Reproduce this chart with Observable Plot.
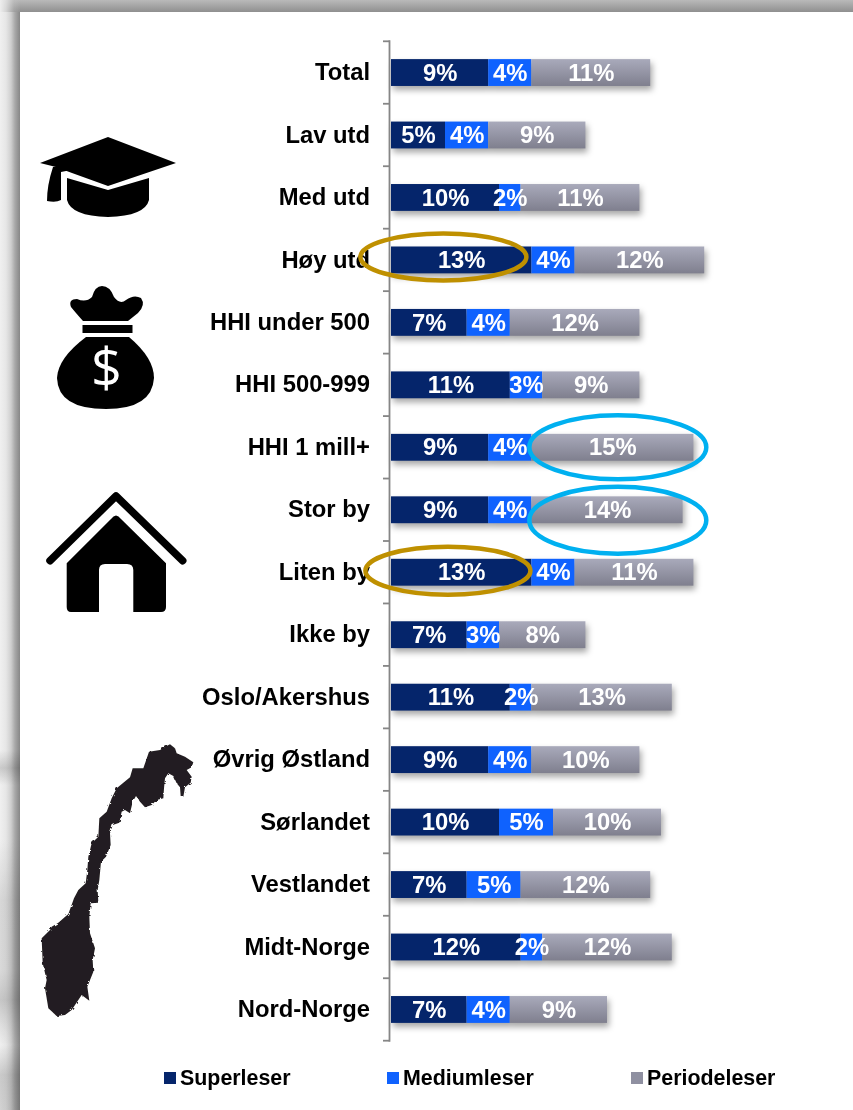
<!DOCTYPE html>
<html><head><meta charset="utf-8">
<script src="https://cdn.jsdelivr.net/npm/d3@7"></script>
<script src="https://cdn.jsdelivr.net/npm/@observablehq/plot@0.6"></script>
<style>
html,body{margin:0;padding:0;width:853px;height:1110px;overflow:hidden;background:#fff}
#sideShade{position:absolute;left:0;top:0;width:20px;height:1110px;background:linear-gradient(to right,#f0f0f0 0,#e6e6e6 6px,#cfcfcf 11px,#a8a8a8 15px,#878787 20px)}
#sideBlot{position:absolute;left:0;top:700px;width:20px;height:410px;mix-blend-mode:multiply;background:linear-gradient(to bottom,#fff 0,#fff 50px,#d8d8d8 68px,#fff 85px,#fff 140px,#e6e6e6 200px,#e8e8e8 270px,#d4d4d4 300px,#eeeeee 325px,#ffffff 345px,#d8d8d8 375px,#e0e0e0 410px)}
#topShade{position:absolute;left:0;top:0;width:853px;height:12px;background:linear-gradient(to bottom,#b9b9b9 0,#8f8f8f 12px)}
#topFade{position:absolute;left:0;top:0;width:20px;height:12px;background:linear-gradient(to right,#eeeeee 0,rgba(230,230,230,.8) 6px,rgba(200,200,200,.3) 14px,rgba(200,200,200,0) 20px)}
#chart{position:absolute;left:0;top:0;width:853px}
#chart svg{display:block;background:transparent}
#legend{position:absolute;left:0;top:1056px;width:853px;height:54px;font:bold 21.4px "Liberation Sans",Arial,sans-serif;color:#000}
#legend span{position:absolute;top:10px;line-height:24px;white-space:nowrap}
#legend i{position:absolute;left:-16px;top:6px;width:12px;height:12px}
</style></head><body>
<div id="sideShade"></div><div id="sideBlot"></div><div id="topShade"></div><div id="topFade"></div>
<div id="chart"></div>
<div id="legend"></div>
<script>
const categories=["Total","Lav utd","Med utd","Høy utd","HHI under 500","HHI 500-999","HHI 1 mill+","Stor by","Liten by","Ikke by","Oslo/Akershus","Øvrig Østland","Sørlandet","Vestlandet","Midt-Norge","Nord-Norge"];
const seriesNames=["Superleser","Mediumleser","Periodeleser"];
const superleser=[9,5,10,13,7,11,9,9,13,7,11,9,10,7,12,7];
const mediumleser=[4,4,2,4,4,3,4,4,4,3,2,4,5,5,2,4];
const periodeleser=[11,9,11,12,12,9,15,14,11,8,13,10,10,12,12,9];
const seriesColors=["#05256b","#0f62fe","url(#greyGrad)"];

const rows=categories.flatMap((c,i)=>[superleser[i],mediumleser[i],periodeleser[i]].map((v,j)=>({category:c,series:seriesNames[j],value:v})));
const stackOpts={x:"value",y:"category",z:"series",order:seriesNames};

const defs=()=>{
  const d=d3.create("svg:defs");
  const g=d.append("linearGradient").attr("id","greyGrad").attr("x1",0).attr("x2",0).attr("y1",0).attr("y2",1);
  g.append("stop").attr("offset",0).attr("stop-color","#a9aabb");
  g.append("stop").attr("offset",1).attr("stop-color","#7f7f8e");
  const f=d.append("filter").attr("id","rough").attr("x","-5%").attr("y","-5%").attr("width","110%").attr("height","110%");
  f.append("feTurbulence").attr("type","fractalNoise").attr("baseFrequency",0.22).attr("numOctaves",2).attr("seed",3).attr("result","n");
  f.append("feDisplacementMap").attr("in","SourceGraphic").attr("in2","n").attr("scale",3);
  f.append("feGaussianBlur").attr("stdDeviation",0.5);
  return d.node();
};
const axisMark=(index,{y})=>{
  const g=d3.create("svg:g").attr("stroke","#868686").attr("fill","none");
  const step=y(categories[1])-y(categories[0]);
  const bw=y.bandwidth();
  const edges=categories.map(c=>y(c)-(step-bw)/2);
  edges.push(edges[edges.length-1]+step);
  const x0=389.5;
  g.append("line").attr("x1",x0).attr("x2",x0).attr("y1",edges[0]-1).attr("y2",edges[edges.length-1]+1).attr("stroke-width",1.8);
  edges.forEach(e=>g.append("line").attr("x1",383).attr("x2",x0).attr("y1",e).attr("y2",e).attr("stroke-width",1.8));
  return g.node();
};
const icons=()=>{
  const g=d3.create("svg:g").attr("fill","#000");
  // graduation cap
  g.append("path").attr("d","M40 163 L108 137 L176 163 L108 186 L72 173 L56 167 Z");
  g.append("path").attr("d","M53 167 L60 166 L71 170 L61 172 L61 200 Q56 203 47 201 Q47 185 53 167 Z");
  g.append("path").attr("d","M67 178 L108 190 L149 178 V200 Q145 216 108 217 Q71 216 67 200 Z");
  // money bag
  g.append("path").attr("d","M83 321 Q75 312 71 307 Q68 299 77 299 Q86 303 92 297 Q95 286 102 286 Q110 286 114 297 Q120 305 126 300 Q134 294 141 298 Q146 305 138 313 L128 321 Z");
  g.append("rect").attr("x",82.5).attr("y",325).attr("width",50).attr("height",8);
  g.append("path").attr("d","M86 337 H129 Q154 358 154 378 Q152 409 106 409 Q58 409 57 378 Q58 358 86 337 Z");
  g.append("text").attr("x",106.5).attr("y",387).attr("text-anchor","middle").attr("fill","#fff").attr("font-family","Open Sans").attr("font-size",54).text("$");
  // house
  g.append("path").attr("d","M50 560.7 L116 496 L182.7 560.7").attr("fill","none").attr("stroke","#000").attr("stroke-width",7.5).attr("stroke-linecap","round").attr("stroke-linejoin","round");
  g.append("path").attr("d","M66.7 563.3 L111 519 Q116 512 121 519 L166 563.3 V607 Q166 612 161 612 H133.3 V570 Q133.3 564 127 564 H105 Q99 564 99 570 V612 H71 Q66.7 612 66.7 607 Z");
  // Norway
  const pts=[[510,43],[525,55],[530,70],[555,80],[580,97],[575,112],[560,120],[575,140],[572,158],[555,172],[550,200],[542,198],[540,172],[530,160],[520,138],[505,130],[495,145],[492,175],[490,205],[470,210],[455,225],[435,232],[420,215],[408,198],[398,215],[390,250],[375,240],[365,245],[358,278],[338,285],[330,310],[332,345],[318,380],[303,395],[298,450],[293,480],[295,518],[272,520],[268,560],[270,610],[285,655],[278,690],[280,725],[262,770],[268,812],[245,795],[215,840],[195,855],[170,858],[145,835],[135,775],[140,750],[128,700],[125,625],[150,600],[155,590],[175,578],[205,552],[222,505],[235,480],[257,460],[262,420],[265,380],[275,340],[295,320],[298,265],[320,245],[335,205],[350,175],[390,142],[398,115],[430,115],[447,65],[480,60],[495,50]];
  g.append("path").attr("fill","#231f20").attr("filter","url(#rough)").attr("d","M"+pts.map(([a,b])=>[a/3,730+b/3].join(" ")).join("L")+"Z");
  return g.node();
};
const ellipses=(index,{x,y})=>{
  const g=d3.create("svg:g").attr("fill","none").attr("stroke-width",4.5);
  const add=(xc,cat,dy,rx,ry,col)=>g.append("ellipse").attr("cx",x(xc)).attr("cy",y(cat)+y.bandwidth()/2+dy).attr("rx",rx).attr("ry",ry).attr("stroke",col);
  add(4.85,"Høy utd",-3,83,23.5,"#bf9000");
  add(5.27,"Liten by",-1.5,82.5,24,"#bf9000");
  add(21,"HHI 1 mill+",0,88.5,32,"#00b0f0");
  add(21,"Stor by",10.5,88.5,33.5,"#00b0f0");
  return g.node();
};

const fontFam='"Liberation Sans",Arial,sans-serif';
const chart=Plot.plot({
  width:853,height:1056,
  marginLeft:0,marginRight:0,marginTop:0,marginBottom:0,
  style:{background:"transparent",overflow:"visible"},
  x:{domain:[0,42],range:[391,391+42*10.8],axis:null},
  y:{domain:categories,range:[41.3,1040.7],paddingInner:0.57,paddingOuter:0.285,align:0.5,round:false,axis:null},
  color:{domain:seriesNames,range:seriesColors},
  marks:[
    defs,
    Plot.barX(rows,Plot.stackX({...stackOpts,fill:"series",imageFilter:"drop-shadow(2px 4px 3px rgba(0,0,0,0.35))"})),
    axisMark,
    Plot.text(categories,{x:()=>0,y:d=>d,text:d=>d,textAnchor:"end",dx:-21.5,dy:-0.5,fontFamily:fontFam,fontWeight:"bold",fontSize:23.8,fill:"#000"}),
    Plot.text(rows,Plot.stackX({...stackOpts,text:d=>d.value+"%",fontFamily:fontFam,fontWeight:"bold",fontSize:23.8,fill:"#fff"})),
    icons,
    ellipses
  ]
});
document.getElementById("chart").appendChild(chart);

const legendX=[180,403,647];
const legendColors=["#05256b","#0f62fe","#8f90a1"];
const lg=document.getElementById("legend");
seriesNames.forEach((n,i)=>{
  const s=document.createElement("span");s.style.left=legendX[i]+"px";s.textContent=n;
  const b=document.createElement("i");b.style.background=legendColors[i];s.appendChild(b);
  lg.appendChild(s);
});
</script></body></html>
